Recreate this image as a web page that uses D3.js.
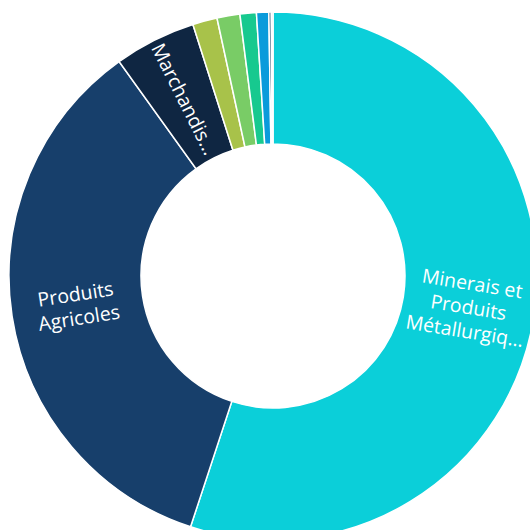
<!DOCTYPE html>
<html>
<head>
<meta charset="utf-8">
<script src="https://cdn.jsdelivr.net/npm/d3@7"></script>
<style>
  html, body { margin: 0; padding: 0; background: #fff; }
  svg { display: block; }
</style>
</head>
<body>
<svg id="chart" width="530" height="530"></svg>
<script>
const categories = [
  "Minerais et Produits Métallurgiques",
  "Produits Agricoles",
  "Marchandises Diverses",
  "Produits Chimiques",
  "Produits Pétroliers",
  "Engrais",
  "Matériaux de Construction",
  "Véhicules",
  "Autres"
];
const values = [55.0, 35.0, 5.0, 1.5, 1.4, 1.0, 0.75, 0.15, 0.1];
const colors = ["#0bcfd9", "#173f6b", "#0f2642", "#a8c24a", "#79cc66", "#17c98f", "#0a9bdb", "#1d4a6a", "#a9dbe6"];
const labelLines = [
  ["Minerais et", "Produits", "Métallurgiq..."],
  ["Produits", "Agricoles"],
  ["Marchandis..."],
  [], [], [], [], [], []
];

const cx = 273, cy = 276, outerR = 264, innerR = 132;
const lineH = 24;

const data = categories.map((c, i) => ({ name: c, value: values[i], color: colors[i], lines: labelLines[i] }));

const svg = d3.select("#chart");
const g = svg.append("g").attr("transform", `translate(${cx},${cy})`);

const pie = d3.pie().value(d => d.value).sort(null);
const arc = d3.arc().innerRadius(innerR).outerRadius(outerR);
const labelArc = d3.arc().innerRadius((innerR + outerR) / 2).outerRadius((innerR + outerR) / 2);

const arcs = pie(data);

g.selectAll("path.slice")
  .data(arcs)
  .join("path")
  .attr("class", "slice")
  .attr("d", arc)
  .attr("fill", d => d.data.color)
  .attr("stroke", "#ffffff")
  .attr("stroke-width", 1.5);

const labels = g.selectAll("g.label")
  .data(arcs.filter(d => d.data.lines.length))
  .join("g")
  .attr("class", "label")
  .attr("transform", d => {
    const [x, y] = labelArc.centroid(d);
    const mid = (d.startAngle + d.endAngle) / 2 * 180 / Math.PI;
    const rot = mid < 180 ? mid - 90 : mid - 270;
    return `translate(${x},${y}) rotate(${rot})`;
  });

labels.each(function(d) {
  const n = d.data.lines.length;
  d3.select(this).selectAll("text")
    .data(d.data.lines)
    .join("text")
    .attr("x", 0)
    .attr("y", (l, i) => (i - (n - 1) / 2) * lineH)
    .attr("dy", "0.35em")
    .attr("text-anchor", "middle")
    .attr("fill", "#ffffff")
    .attr("font-family", "'Segoe UI', 'Open Sans', 'Noto Sans', sans-serif")
    .attr("font-size", 19.5)
    .text(l => l);
});
</script>
</body>
</html>
